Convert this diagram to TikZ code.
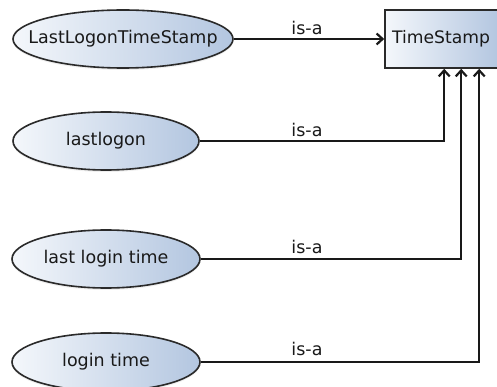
\documentclass[tikz,border=0pt]{standalone}
\usepackage{fontspec}
\setmainfont{DejaVu Sans}
\usetikzlibrary{shapes.geometric,arrows.meta,calc,shadows}
\definecolor{edgecol}{HTML}{2A2A2A}
\definecolor{fillL}{HTML}{F4F7FB}
\definecolor{fillR}{HTML}{B3C6E0}
\tikzset{
  term/.style={ellipse, draw=edgecol, line width=1.6pt, left color=fillL, right color=fillR,
    inner sep=0pt, minimum height=58pt,
    drop shadow={shadow xshift=0pt, shadow yshift=-2pt, opacity=0.12}},
  classbox/.style={rectangle, draw=edgecol, line width=1.6pt, left color=fillL, right color=fillR,
    inner sep=0pt, minimum width=114pt, minimum height=58pt, font=\fontsize{17.2}{20}\selectfont, text=black!90},
  isa/.style={-{Straight Barb[length=6pt,width=11pt,line width=2.2pt]}, line width=1.6pt, draw=black!90},
  lbl/.style={font=\fontsize{17.5}{20}\selectfont, text=black!90, inner sep=0pt}
}
\begin{document}
\begin{tikzpicture}[x=1pt,y=-1pt]
\useasboundingbox (0,0) rectangle (497,387);
\fill[white] (0,0) rectangle (497,387);
\node[term, minimum width=220pt] (e1) at (123,39) {};
\node[lbl] (t1) at (e1) {LastLogonTimeStamp};
\node[term, minimum width=186pt] (e2) at (106,141) {};
\node[lbl] (t2) at (e2) {lastlogon};
\node[term, minimum width=188pt] (e3) at (106,259) {};
\node[lbl] (t3) at (e3) {last login time};
\node[term, minimum width=188pt] (e4) at (106,362) {};
\node[lbl] (t4) at (e4) {login time};
\node[classbox] (ts) at (442,39) {};
\node[lbl, font=\fontsize{17.2}{20}\selectfont] (tt) at (441,39) {TimeStamp};
\draw[isa] (e1.east) -- (ts.west);
\draw[isa] (e2.east) -| ([xshift=60pt]ts.south west);
\draw[isa] (e3.east) -| ([xshift=77pt]ts.south west);
\draw[isa] (e4.east) -| ([xshift=95pt]ts.south west);
\node[lbl] (l1) at (307,28) {is-a};
\node[lbl] (l2) at (307,130) {is-a};
\node[lbl] (l3) at (307,247) {is-a};
\node[lbl] (l4) at (307,349) {is-a};
\end{tikzpicture}
\end{document}
